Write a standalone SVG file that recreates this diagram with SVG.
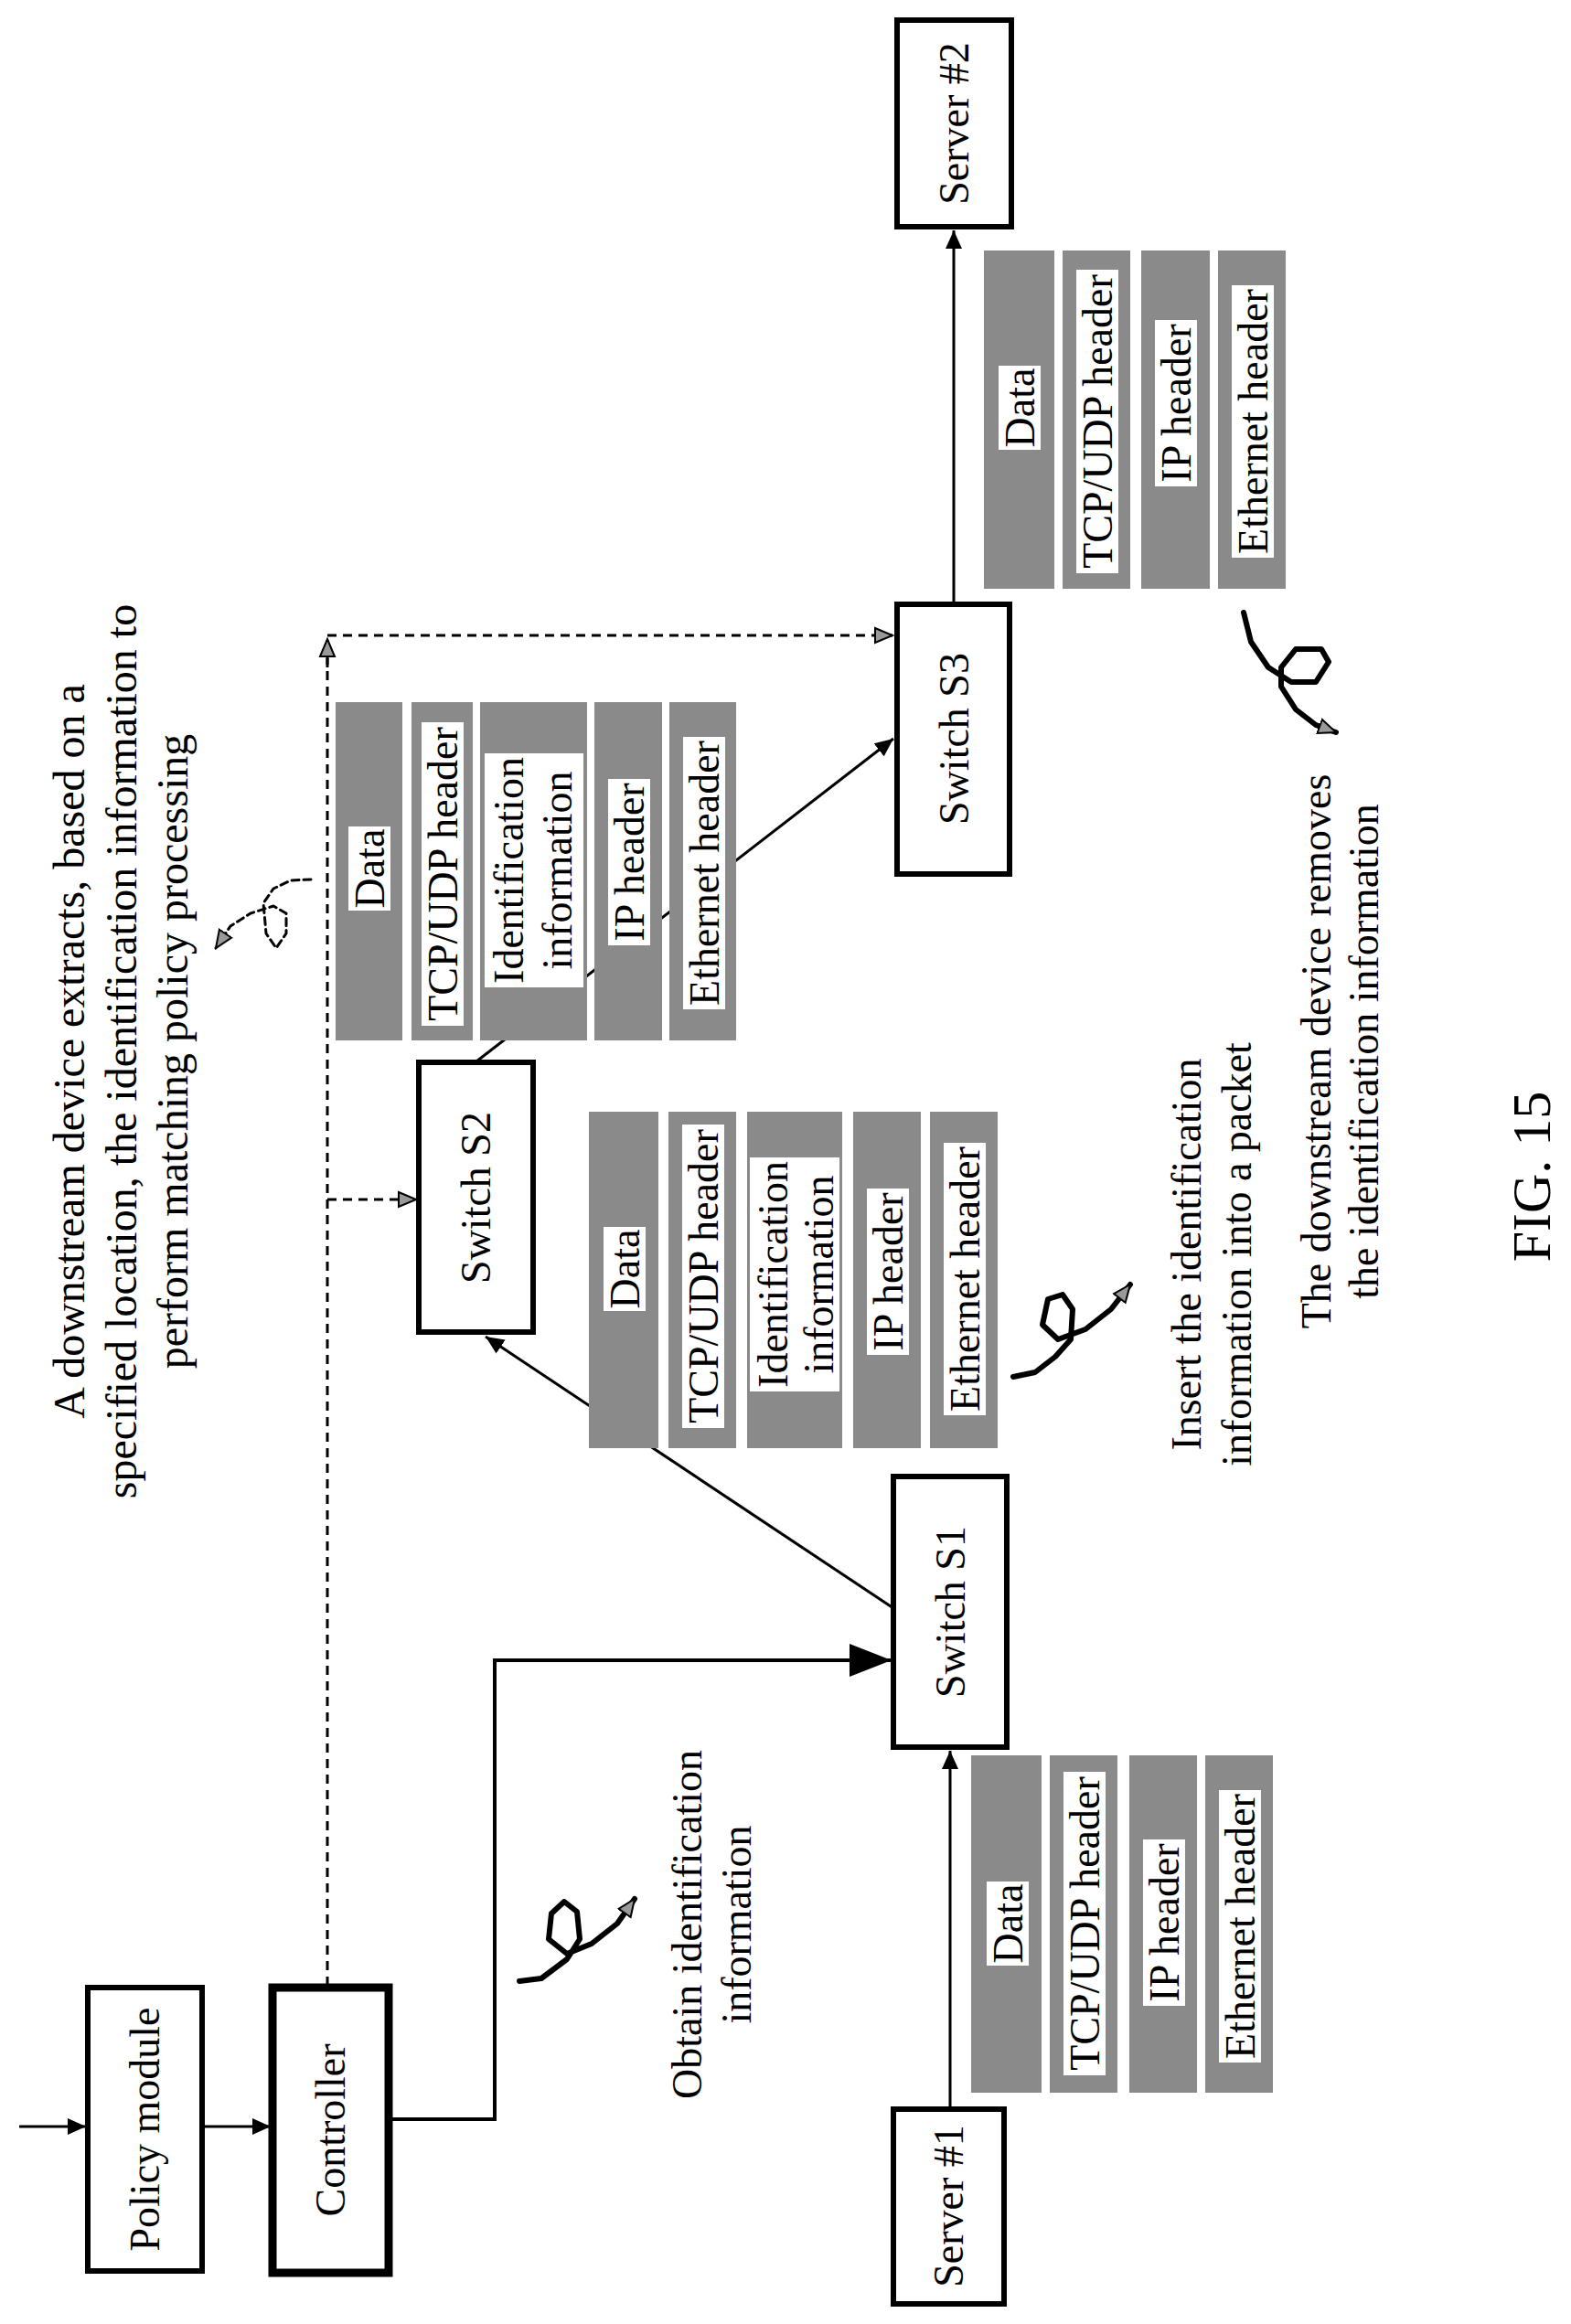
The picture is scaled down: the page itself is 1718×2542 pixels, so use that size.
<svg xmlns="http://www.w3.org/2000/svg" width="1718" height="2542" viewBox="0 0 1718 2542">
<style>
text{font-family:"Liberation Serif","Times New Roman",serif;fill:#000;text-anchor:middle;dominant-baseline:central}
.box{fill:#fff;stroke:#000;stroke-width:6}
.bar{fill:#8a8a8a}
.wb{fill:#fff}
.ln{fill:none;stroke:#000;stroke-width:3}
.ds{fill:none;stroke:#000;stroke-width:3;stroke-dasharray:10 7}
.sq{fill:none;stroke:#000;stroke-width:6;stroke-linejoin:round;stroke-linecap:round}
.t46{font-size:46px}
.t48{font-size:48px}
</style>
<defs>
<marker id="af" markerWidth="10" markerHeight="10" refX="9" refY="5" orient="auto" markerUnits="userSpaceOnUse" viewBox="0 0 10 10"><path d="M0,0 L10,5 L0,10 Z" fill="#000"/></marker>
<marker id="ah" markerWidth="22" markerHeight="20" refX="20" refY="10" orient="auto" markerUnits="userSpaceOnUse"><path d="M1,2 L20,10 L1,18 Z" fill="#999" stroke="#000" stroke-width="2"/></marker>
<marker id="big" markerWidth="48" markerHeight="36" refX="46" refY="18" orient="auto" markerUnits="userSpaceOnUse"><path d="M0,0 L46,18 L0,36 Z" fill="#000"/></marker>
<marker id="sm" markerWidth="22" markerHeight="22" refX="20" refY="11" orient="auto" markerUnits="userSpaceOnUse"><path d="M0,2 L20,11 L0,20 Z" fill="#000"/></marker>
</defs>

<g id="connectors">
<line class="ln" x1="21" y1="2326" x2="94" y2="2326" marker-end="url(#sm)"/>
<line class="ln" x1="224" y1="2326" x2="296" y2="2326" marker-end="url(#sm)"/>
<polyline class="ln" style="stroke-width:4" points="427,2318 541,2318 541,1816 975,1816" marker-end="url(#big)"/>
<line class="ln" x1="1039" y1="2305" x2="1039" y2="1915" marker-end="url(#sm)"/>
<line class="ln" x1="977" y1="1759" x2="531" y2="1462" marker-end="url(#sm)"/>
<line class="ln" x1="521" y1="1161" x2="977" y2="808" marker-end="url(#sm)"/>
<line class="ln" x1="1043" y1="659" x2="1043" y2="252" marker-end="url(#sm)"/>
<polyline class="ds" points="358,2172 358,699"/>
<line class="ds" x1="358" y1="730" x2="358" y2="699" marker-end="url(#ah)"/>
<polyline class="ds" points="358,695 976,695" marker-end="url(#ah)"/>
<polyline class="ds" points="358,1312 455,1312" marker-end="url(#ah)"/>
</g>

<g id="policy-module"><rect class="box" x="96" y="2174" width="125" height="310"/><text class="t46" transform="translate(158,2329) rotate(-90)">Policy module</text></g>
<g id="controller"><rect class="box" style="stroke-width:9" x="298" y="2174" width="127" height="312"/><text class="t46" transform="translate(361,2330) rotate(-90)">Controller</text></g>
<g id="server1"><rect class="box" x="977" y="2307" width="121" height="213"/><text class="t46" transform="translate(1037,2413) rotate(-90)">Server #1</text></g>
<g id="switch-s1"><rect class="box" x="977" y="1615" width="124" height="296"/><text class="t46" transform="translate(1039,1763) rotate(-90)">Switch S1</text></g>
<g id="switch-s2"><rect class="box" x="458" y="1162" width="125" height="295"/><text class="t46" transform="translate(520,1310) rotate(-90)">Switch S2</text></g>
<g id="switch-s3"><rect class="box" x="981" y="661" width="123" height="295"/><text class="t46" transform="translate(1043,808) rotate(-90)">Switch S3</text></g>
<g id="server2"><rect class="box" x="981" y="22" width="125" height="226"/><text class="t46" transform="translate(1043,135) rotate(-90)">Server #2</text></g>

<g id="packet1">
<rect class="bar" x="1062" y="1920" width="77" height="369"/><rect class="wb" x="1079" y="2058" width="46" height="92"/><text class="t46" transform="translate(1102,2104) rotate(-90)">Data</text>
<rect class="bar" x="1148" y="1920" width="74" height="369"/><rect class="wb" x="1163" y="1938" width="46" height="332"/><text class="t46" transform="translate(1186,2104) rotate(-90)">TCP/UDP header</text>
<rect class="bar" x="1235" y="1920" width="74" height="369"/><rect class="wb" x="1250" y="2012" width="46" height="182"/><text class="t46" transform="translate(1273,2103) rotate(-90)">IP header</text>
<rect class="bar" x="1318" y="1920" width="74" height="369"/><rect class="wb" x="1333" y="1958" width="46" height="298"/><text class="t46" transform="translate(1356,2107) rotate(-90)">Ethernet header</text>
</g>

<g id="packet2">
<rect class="bar" x="644" y="1216" width="76" height="368"/><rect class="wb" x="660" y="1342" width="46" height="92"/><text class="t46" transform="translate(683,1388) rotate(-90)">Data</text>
<rect class="bar" x="731" y="1216" width="74" height="368"/><rect class="wb" x="746" y="1230" width="46" height="332"/><text class="t46" transform="translate(769,1396) rotate(-90)">TCP/UDP header</text>
<rect class="bar" x="817" y="1216" width="104" height="368"/><rect class="wb" x="820" y="1266" width="98" height="256"/><text class="t46" transform="translate(845,1394) rotate(-90)">Identification</text><text class="t46" transform="translate(895,1394) rotate(-90)">information</text>
<rect class="bar" x="933" y="1216" width="74" height="368"/><rect class="wb" x="948" y="1300" width="46" height="182"/><text class="t46" transform="translate(971,1391) rotate(-90)">IP header</text>
<rect class="bar" x="1017" y="1216" width="74" height="368"/><rect class="wb" x="1032" y="1250" width="46" height="298"/><text class="t46" transform="translate(1055,1399) rotate(-90)">Ethernet header</text>
</g>

<g id="packet3">
<rect class="bar" x="367" y="768" width="73" height="370"/><rect class="wb" x="381" y="904" width="46" height="92"/><text class="t46" transform="translate(404,950) rotate(-90)">Data</text>
<rect class="bar" x="450" y="768" width="67" height="370"/><rect class="wb" x="461" y="790" width="46" height="332"/><text class="t46" transform="translate(484,956) rotate(-90)">TCP/UDP header</text>
<rect class="bar" x="525" y="768" width="117" height="370"/><rect class="wb" x="530" y="824" width="108" height="256"/><text class="t46" transform="translate(556,952) rotate(-90)">Identification</text><text class="t46" transform="translate(609,952) rotate(-90)">information</text>
<rect class="bar" x="650" y="768" width="74" height="370"/><rect class="wb" x="665" y="852" width="46" height="182"/><text class="t46" transform="translate(688,943) rotate(-90)">IP header</text>
<rect class="bar" x="732" y="768" width="73" height="370"/><rect class="wb" x="747" y="806" width="46" height="298"/><text class="t46" transform="translate(770,955) rotate(-90)">Ethernet header</text>
</g>

<g id="packet4">
<rect class="bar" x="1076" y="274" width="77" height="370"/><rect class="wb" x="1092" y="400" width="46" height="92"/><text class="t46" transform="translate(1115,446) rotate(-90)">Data</text>
<rect class="bar" x="1162" y="274" width="74" height="370"/><rect class="wb" x="1177" y="295" width="46" height="332"/><text class="t46" transform="translate(1200,461) rotate(-90)">TCP/UDP header</text>
<rect class="bar" x="1248" y="274" width="75" height="370"/><rect class="wb" x="1263" y="350" width="46" height="182"/><text class="t46" transform="translate(1286,441) rotate(-90)">IP header</text>
<rect class="bar" x="1332" y="274" width="74" height="370"/><rect class="wb" x="1347" y="312" width="46" height="298"/><text class="t46" transform="translate(1370,461) rotate(-90)">Ethernet header</text>
</g>

<g id="annotations">
<polyline class="sq" points="568,2167 592,2164 620,2143 634,2121 631,2091 617,2080 603,2093 600,2121 620,2137 647,2126 675,2104 694,2077" marker-end="url(#ah)"/>
<polyline class="sq" points="1108,1506 1132,1501 1154,1484 1171,1465 1173,1432 1162,1416 1146,1421 1140,1449 1157,1465 1187,1454 1215,1432 1236,1405" marker-end="url(#ah)"/>
<polyline class="sq" points="1360,670 1368,702 1387,730 1412,746 1439,746 1453,724 1445,710 1417,710 1401,730 1401,751 1417,776 1439,793 1461,801" marker-end="url(#ah)"/>
<polyline class="sq" style="stroke-width:3;stroke-dasharray:8 5" points="340,962 318,963 299,972 288,988 291,1021 302,1037 313,1021 313,999 299,991 274,999 252,1013 236,1037" marker-end="url(#ah)"/>
<text class="t46" transform="translate(751,2105) rotate(-90)">Obtain identification</text>
<text class="t46" transform="translate(805,2105) rotate(-90)">information</text>
<text class="t46" transform="translate(1297,1372) rotate(-90)">Insert the identification</text>
<text class="t46" transform="translate(1352,1372) rotate(-90)">information into a packet</text>
<text class="t46" transform="translate(1439,1150) rotate(-90)">The downstream device removes</text>
<text class="t46" transform="translate(1491,1150) rotate(-90)">the identification information</text>
<text class="t48" transform="translate(75,1150) rotate(-90)">A downstream device extracts, based on a</text>
<text class="t48" transform="translate(132,1150) rotate(-90)">specified location, the identification information to</text>
<text class="t48" transform="translate(188,1150) rotate(-90)">perform matching policy processing</text>
<text style="font-size:60px" transform="translate(1675,1287) rotate(-90)">FIG. 15</text>
</g>
</svg>
